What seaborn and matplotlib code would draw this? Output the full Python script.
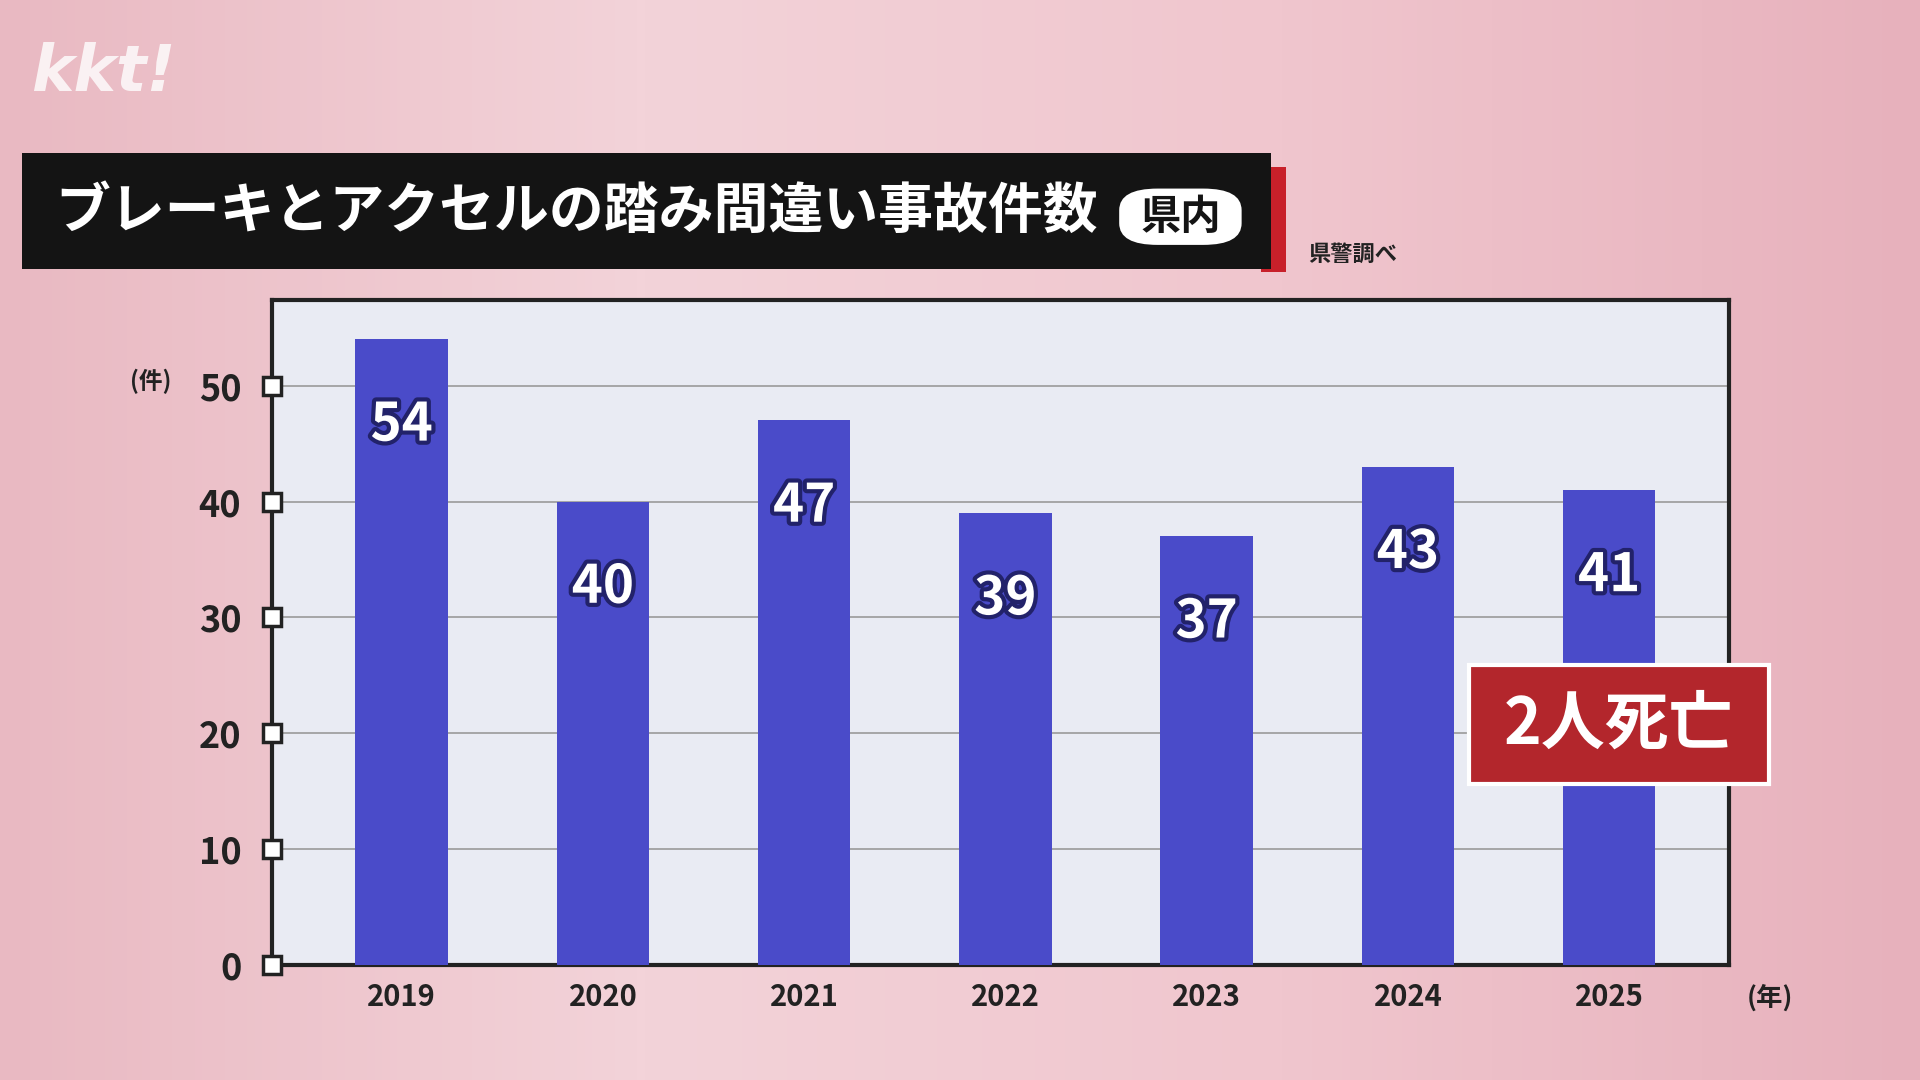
import matplotlib
matplotlib.use("Agg")
import matplotlib.pyplot as plt
import matplotlib.patheffects as pe
from matplotlib.patches import FancyBboxPatch, Rectangle
import seaborn as sns
import numpy as np

years = ["2019", "2020", "2021", "2022", "2023", "2024", "2025"]
counts = [54, 40, 47, 39, 37, 43, 41]
yticks = [0, 10, 20, 30, 40, 50]

sns.set_theme(style="white")
plt.rcParams['font.family'] = ['Noto Sans CJK JP', 'DejaVu Sans']

fig = plt.figure(figsize=(19.2, 10.8), dpi=100)
bg = fig.add_axes([0, 0, 1, 1], zorder=-10)
grad = np.linspace(0, 1, 256)[None, :]
bg.imshow(grad, extent=[0, 1, 0, 1], aspect='auto', cmap=matplotlib.colors.LinearSegmentedColormap.from_list(
    "p", ["#e9b9c2", "#f3d3d9", "#f0c6ce", "#e7b1bc"]))
bg.axis('off')

ax = fig.add_axes([0.1416, 0.1066, 0.759, 0.6156])
ax.set_facecolor("#e9ebf3")
sns.barplot(x=years, y=counts, color="#4a4bc9", saturation=1, width=0.46, ax=ax, zorder=3,
            edgecolor="none", linewidth=0)
ax.set_xlim(-0.645, 6.596)
ax.set_ylim(0, 57.4)
ax.set_yticks(yticks)
ax.set_yticklabels([str(t) for t in yticks], fontsize=26, fontweight='bold', color="#222")
ax.tick_params(axis='y', length=0, pad=22)
ax.tick_params(axis='x', length=0, pad=12)
ax.set_xticks(range(len(years)))
ax.set_xticklabels(years, fontsize=21, fontweight='bold', color="#222")
ax.set_xlabel(""); ax.set_ylabel("")
for t in yticks[1:]:
    ax.axhline(t, color="#9a9a9a", lw=1.2, zorder=1)
for s in ax.spines.values():
    s.set_color("#222"); s.set_linewidth(3)
ax.plot([-0.645] * len(yticks), yticks, ls='none', marker='s', ms=13, mfc='white', mec='#222',
        mew=2.5, clip_on=False, zorder=5)

outline = [pe.withStroke(linewidth=6, foreground="#22226a")]
for i, v in enumerate(counts):
    ax.text(i, v - 7.4, str(v), ha='center', va='center', fontsize=38, fontweight='bold',
            color='white', path_effects=outline, zorder=6)

ax.text(-0.645 - 0.6, 50.4, "(件)", ha='center', va='center', fontsize=17, fontweight='bold', color='#222')
ax.text(6.8, -2.9, "(年)", ha='center', va='center', fontsize=19, fontweight='bold', color='#222', clip_on=False)

fig.patches.append(Rectangle((1200/1568, 1-640/882), 245/1568, 97/882, transform=fig.transFigure,
                             facecolor="#b3262c", edgecolor="white", lw=3, zorder=10))
fig.text(1322/1568, 1-592/882, "2人死亡", ha='center', va='center', fontsize=46, fontweight='bold',
         color='white', zorder=11)

fig.patches.append(Rectangle((1030/1568, 1-222/882), 20/1568, 86/882, transform=fig.transFigure,
                             facecolor="#c8202a", edgecolor='none', zorder=9))
fig.patches.append(Rectangle((18/1568, 1-220/882), 1020/1568, 95/882, transform=fig.transFigure,
                             facecolor="#141414", edgecolor='none', zorder=10))
fig.text(45/1568, 1-173/882, "ブレーキとアクセルの踏み間違い事故件数", ha='left', va='center', fontsize=39.5,
         fontweight='bold', color='white', zorder=11)
fig.patches.append(FancyBboxPatch((914/1568, 1-200/882), 100/1568, 46/882, transform=fig.transFigure,
                                  boxstyle="round,pad=0,rounding_size=0.02", facecolor='white',
                                  edgecolor='none', zorder=11))
fig.text(964/1568, 1-178/882, "県内", ha='center', va='center', fontsize=29, fontweight='bold',
         color='#141414', zorder=12)
fig.text(1068/1568, 1-208/882, "県警調べ", ha='left', va='center', fontsize=16, fontweight='bold', color='#222')
fig.text(25/1568, 1-60/882, "kkt!", ha='left', va='center', fontsize=46, fontweight='bold', style='italic',
         color='white', alpha=0.8, family='DejaVu Sans')

fig.savefig("out.png", dpi=100)
